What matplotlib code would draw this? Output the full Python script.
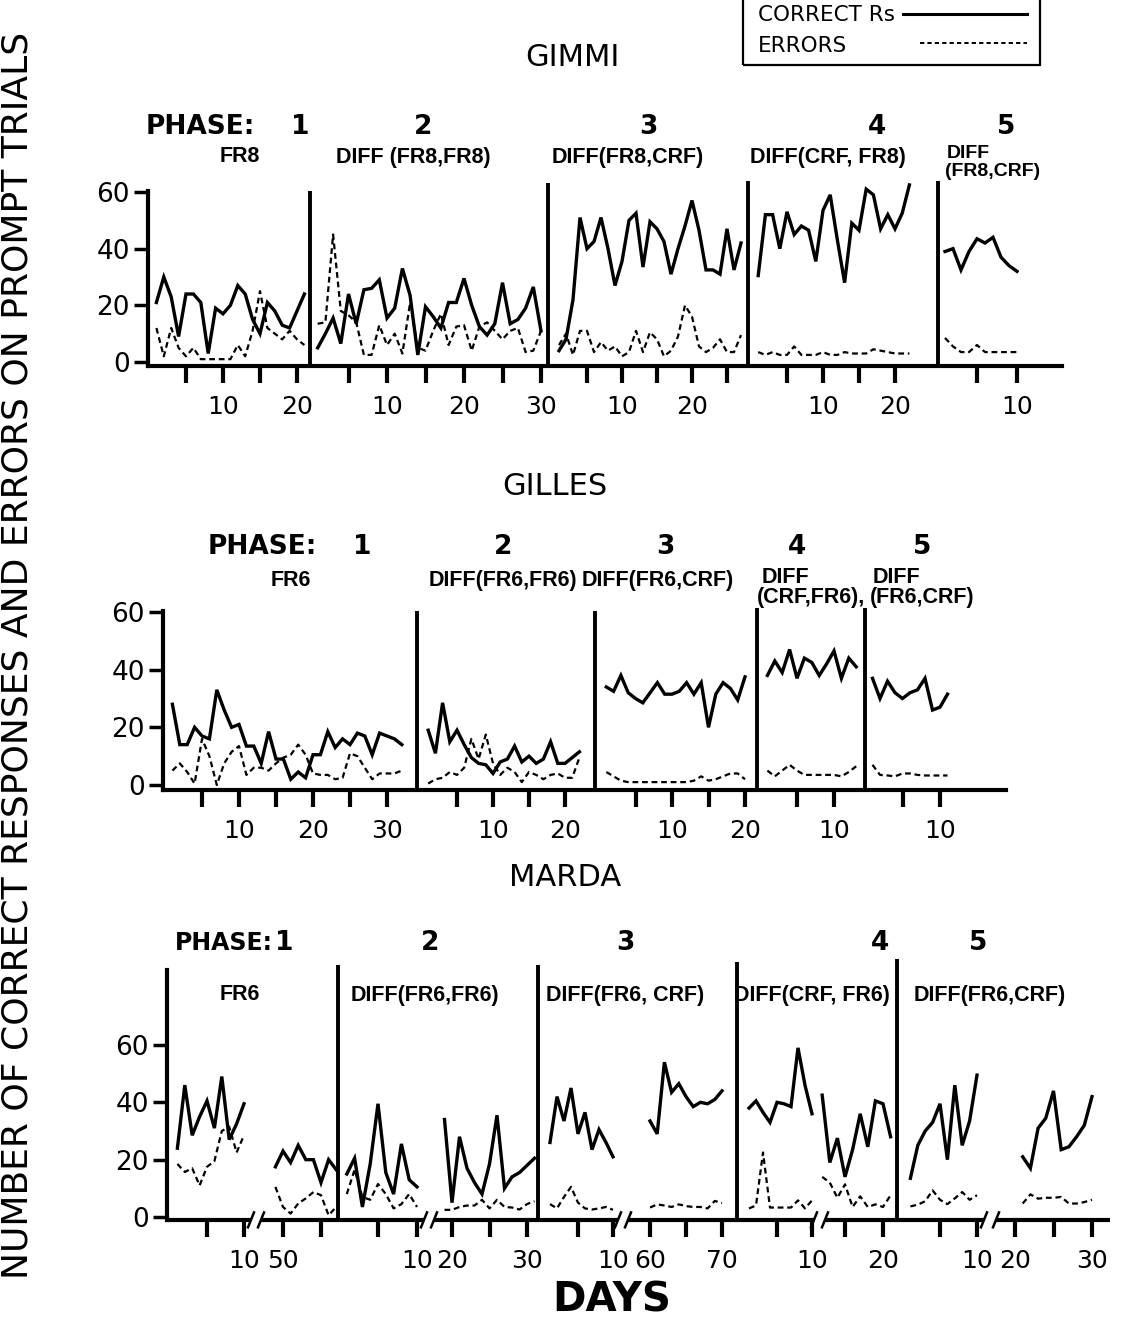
import matplotlib
matplotlib.use("Agg")
import matplotlib.pyplot as plt
from matplotlib import font_manager
from matplotlib.font_manager import FontProperties
from matplotlib.lines import Line2D
from matplotlib.patches import Rectangle

W, H = 1121, 1319

# ---------------- data: days, correct responses, errors ----------------
# GIMMI
GIMMI_P1_DAYS = list(range(1, 22))
GIMMI_P1_CORRECT = [21, 30, 23, 9, 24, 24, 21, 3, 19, 17, 20, 27, 24, 15, 10, 21, 18, 13, 12, 18, 24]
GIMMI_P1_ERRORS = [12, 2, 12, 5, 2, 5, 1, 1, 1, 1, 1, 6, 2, 11, 25, 12, 10, 8, 11, 8, 6]
GIMMI_P2_DAYS = list(range(1, 31))
GIMMI_P2_CORRECT = [5, 10, 15.5, 6.5, 24, 13.5, 25.5, 26, 29, 15.5, 19, 33, 23.5, 2.5, 19.5,
                    16, 12, 21, 21, 29.5, 20, 12.5, 9.5, 13.5, 28, 13.5, 15, 19, 26.5, 11]
GIMMI_P2_ERRORS = [13.5, 14, 45, 18, 16.5, 14, 2.5, 2.5, 13, 6, 10, 3, 21, 5, 4,
                   11, 17, 6, 12.5, 13, 4, 12.5, 14, 11, 8, 11, 12, 3.5, 4, 11]
GIMMI_P3_DAYS = list(range(1, 28))
GIMMI_P3_CORRECT = [4, 8, 22, 51, 40, 42.5, 51, 40, 27, 35.5, 50, 52.5, 33.5, 49.5, 47,
                    42.5, 31, 40, 48, 57, 46.5, 32.5, 32.5, 31, 47, 32.5, 42]
GIMMI_P3_ERRORS = [6, 10, 2.5, 11, 11, 3.5, 7, 4, 5.5, 2, 3.5, 11, 3.5, 10.5, 8,
                   2, 4, 9, 20, 16, 5.5, 3.5, 5, 8, 3.5, 3.5, 9.5]
GIMMI_P4_DAYS = list(range(1, 23))
GIMMI_P4_CORRECT = [30.5, 52, 52, 40, 53, 45, 48, 46.5, 35.5, 53.5, 59, 43, 28, 49, 46.5,
                    61, 59, 47, 52, 47, 52.5, 62.5]
GIMMI_P4_ERRORS = [3.5, 2.5, 3.5, 2.5, 2.5, 5.5, 2.5, 2.5, 2.5, 3.5, 2.5, 2.5, 3.5, 3, 3,
                   3, 4.5, 4, 3.5, 3, 3, 3]
GIMMI_P5_DAYS = list(range(1, 11))
GIMMI_P5_CORRECT = [39, 40, 32.5, 39, 43.5, 42, 44, 37, 34, 32]
GIMMI_P5_ERRORS = [8.5, 5.5, 3.5, 3.5, 6, 3.5, 3.5, 3.5, 3.5, 3.5]

# GILLES
GILLES_P1_DAYS = list(range(1, 33))
GILLES_P1_CORRECT = [28, 14, 14, 20, 17, 16, 33, 26, 20, 21, 13.5, 13.5, 7.5, 18.5, 9, 9,
                     2, 4.5, 2.5, 10.5, 10.5, 18.5, 13, 16, 14, 18, 17, 10.5, 18, 17, 16, 14]
GILLES_P1_ERRORS = [5, 7.5, 4.5, 0.5, 16, 10, 0, 7.5, 11.5, 13.5, 3.5, 6, 6, 5, 7.5, 9.5,
                    10.5, 14, 10.5, 4, 3.5, 3.5, 2, 2.5, 11, 10, 6, 2, 4, 4, 4, 5]
GILLES_P2_DAYS = list(range(1, 23))
GILLES_P2_CORRECT = [19, 11, 28.5, 15, 19, 14, 9.5, 7.5, 7, 4, 8, 9, 13.5, 8, 10, 7.5,
                     9, 15, 7.5, 7.5, 9.5, 11.5]
GILLES_P2_ERRORS = [0.5, 2, 2.5, 4.5, 3.5, 6, 16, 9, 17.5, 7.5, 3.5, 6, 4.5, 1, 4.5, 3.5,
                    2, 3.5, 4, 2.5, 2.5, 9.5]
GILLES_P3_DAYS = list(range(1, 21))
GILLES_P3_CORRECT = [34, 32.5, 38, 32, 30, 28.5, 32, 35.5, 31.5, 31.5, 32.5, 35.5, 31.5,
                     35.5, 20, 31.5, 35.5, 33.5, 29.5, 37.5]
GILLES_P3_ERRORS = [4.5, 3, 1.5, 1, 1, 1, 1, 1, 1, 1, 1, 1, 1.5, 3, 1.5, 2, 3, 4, 4, 2]
GILLES_P4_DAYS = list(range(1, 14))
GILLES_P4_CORRECT = [38, 43, 39, 47, 37, 44, 42.5, 38, 42, 46.5, 37, 44, 41]
GILLES_P4_ERRORS = [5, 3, 5, 7, 5, 3.5, 3.5, 3.5, 3.5, 3.5, 3, 4.5, 6.5]
GILLES_P5_DAYS = list(range(1, 12))
GILLES_P5_CORRECT = [37, 30, 36, 32, 30, 32, 33, 37, 26, 27, 31.5]
GILLES_P5_ERRORS = [7, 3.5, 3.3, 3, 4, 4, 3.5, 3.3, 3.3, 3.3, 3.3]

# MARDA (each phase shows an early and a late stretch of days)
MARDA_P1A_DAYS = list(range(1, 11))
MARDA_P1A_CORRECT = [24, 46, 28.5, 35, 40.5, 31, 49, 27, 32.5, 39.5]
MARDA_P1A_ERRORS = [18.5, 15.7, 17, 11, 17.5, 19.5, 30, 31.5, 22.5, 28.5]
MARDA_P1B_DAYS = list(range(49, 58))
MARDA_P1B_CORRECT = [17.5, 23, 19, 25, 20, 20, 12, 20, 16.5]
MARDA_P1B_ERRORS = [10.5, 3.5, 1.2, 4.7, 6.5, 8.7, 7.6, 0.6, 3.5]
MARDA_P2A_DAYS = list(range(1, 11))
MARDA_P2A_CORRECT = [15, 20.5, 3.5, 18.5, 39.5, 15.5, 8, 25.5, 13, 10.5]
MARDA_P2A_ERRORS = [8, 16.5, 7, 6, 11.5, 8, 3, 4.5, 8, 3.5]
MARDA_P2B_DAYS = list(range(19, 32))
MARDA_P2B_CORRECT = [34, 5, 28, 17, 12, 8, 18.5, 35.5, 10, 14, 15.5, 18, 20.5]
MARDA_P2B_ERRORS = [2.5, 2.5, 3.5, 4, 4, 6, 3, 6, 3.5, 3.3, 2.6, 4.5, 5.5]
MARDA_P3A_DAYS = list(range(1, 11))
MARDA_P3A_CORRECT = [26, 42, 33.5, 45, 29, 36.5, 23.5, 30.5, 26, 21]
MARDA_P3A_ERRORS = [4.5, 3, 7, 10.5, 5, 3, 2.6, 3, 3.5, 2.5]
MARDA_P3B_DAYS = list(range(60, 71))
MARDA_P3B_CORRECT = [33.5, 29, 54, 43.5, 46.5, 42, 38.5, 40, 39.5, 41, 44]
MARDA_P3B_ERRORS = [3.3, 4.4, 4, 3.5, 4.4, 3.8, 3.5, 3.5, 3, 5.6, 4.9]
MARDA_P4A_DAYS = list(range(1, 11))
MARDA_P4A_CORRECT = [38, 40.5, 36.5, 33, 40, 39.5, 38.5, 59, 46, 36]
MARDA_P4A_ERRORS = [3, 4, 22.5, 3.3, 3.3, 3.3, 3.3, 5.8, 3, 5.8]
MARDA_P4B_DAYS = list(range(12, 22))
MARDA_P4B_CORRECT = [42.5, 19, 27.5, 14, 23.5, 36, 24.5, 40.5, 39.5, 28]
MARDA_P4B_ERRORS = [14, 12, 6.7, 11.4, 3.5, 7.2, 3.5, 4.4, 3.5, 7.6]
MARDA_P5A_DAYS = list(range(1, 11))
MARDA_P5A_CORRECT = [13.5, 25, 30, 33, 39.5, 20, 46, 25, 33.5, 49.5]
MARDA_P5A_ERRORS = [3.7, 4.3, 5.5, 9.3, 6, 4.5, 6.5, 8.7, 6, 7.6]
MARDA_P5B_DAYS = list(range(21, 31))
MARDA_P5B_CORRECT = [21, 17, 31, 34.5, 44, 23.5, 24.5, 28, 32, 42]
MARDA_P5B_ERRORS = [4.7, 7.9, 6.4, 6.7, 6.7, 7, 4.7, 4.7, 5.2, 6]


def have_font(name):
    try:
        font_manager.findfont(FontProperties(family=name), fallback_to_default=False)
        return True
    except ValueError:
        return False


MAIN = 'DejaVu Sans'
NARROW = 'Liberation Sans Narrow' if have_font('Liberation Sans Narrow') else 'Liberation Sans'

plt.rcParams['font.family'] = [MAIN]
fig = plt.figure(figsize=(W / 100, H / 100), dpi=100)


def ftext(x, y, s, **kw):
    kw.setdefault('ha', 'center')
    kw.setdefault('va', 'center')
    fig.text(x / W, 1 - y / H, s, **kw)


def panel(top, bottom, y0, ppu):
    ax = fig.add_axes([0, 1 - bottom / H, 1, (bottom - top) / H])
    ax.set_xlim(0, W)
    ax.set_ylim((y0 - bottom) / ppu, (y0 - top) / ppu)
    ax.patch.set_alpha(0)
    for s in ('top', 'right'):
        ax.spines[s].set_visible(False)
    return ax


def draw(ax, segs, yaxis_x, axis_y, ytop, xend, bounds_px, tops, breaks=None):
    ticks, labels = [], []
    for days, corr, err, (rd, rx, ppd), tks in segs:
        xs = [rx + (d - rd) * ppd for d in days]
        ax.plot(xs, corr, color='black', lw=2.4, solid_joinstyle='miter')
        ax.plot(xs, err, color='black', lw=1.6, linestyle=(0, (2.6, 1.7)))
        for t in tks:
            ticks.append(rx + (t - rd) * ppd)
            labels.append(str(t) if t % 10 == 0 else '')
    ax.set_xticks(ticks)
    ax.set_xticklabels(labels)
    ax.set_yticks([0, 20, 40, 60])
    ax.spines['left'].set_position(('data', yaxis_x))
    ax.spines['left'].set_bounds(axis_y, ytop)
    ax.spines['bottom'].set_position(('data', axis_y))
    ax.spines['bottom'].set_bounds(yaxis_x, xend)
    for s in ('left', 'bottom'):
        ax.spines[s].set_linewidth(3)
    ax.tick_params(axis='x', direction='out', length=12, width=3, labelsize=18, pad=9)
    ax.tick_params(axis='y', direction='out', length=10, width=2.5, labelsize=19, pad=3)
    ax.vlines(bounds_px, axis_y, tops, color='black', lw=2.8)
    if breaks:
        ax.spines['bottom'].set_visible(False)
        edges = [yaxis_x] + [v for b in breaks for v in b] + [xend]
        for a, b in zip(edges[::2], edges[1::2]):
            ax.plot([a, b], [axis_y, axis_y], color='black', lw=3, solid_capstyle='butt')
        for b0, b1 in breaks:
            for bx in (b0, b1):
                ax.plot([bx - 3, bx + 3], [axis_y - 2.6, axis_y + 2.6], color='black', lw=1.8)


# ---------------- GIMMI ----------------
ax1 = panel(170, 420, 362, 170 / 60)
draw(ax1, [
    (GIMMI_P1_DAYS, GIMMI_P1_CORRECT, GIMMI_P1_ERRORS, (0, 149, 7.4), [5, 10, 15, 20]),
    (GIMMI_P2_DAYS, GIMMI_P2_CORRECT, GIMMI_P2_ERRORS, (0, 310, 7.7), [5, 10, 15, 20, 25, 30]),
    (GIMMI_P3_DAYS, GIMMI_P3_CORRECT, GIMMI_P3_ERRORS, (0, 552, 7.0), [5, 10, 15, 20, 25]),
    (GIMMI_P4_DAYS, GIMMI_P4_CORRECT, GIMMI_P4_ERRORS, (0, 751, 7.2), [5, 10, 15, 20]),
    (GIMMI_P5_DAYS, GIMMI_P5_CORRECT, GIMMI_P5_ERRORS, (0, 937, 8.0), [5, 10]),
], 148, -1.4, 60.5, 1062, [310, 548, 748, 938], [60.5, 63, 64, 64])

# ---------------- GILLES ----------------
ax2 = panel(595, 830, 785, 173 / 60)
draw(ax2, [
    (GILLES_P1_DAYS, GILLES_P1_CORRECT, GILLES_P1_ERRORS, (0, 165, 7.4), [5, 10, 15, 20, 25, 30]),
    (GILLES_P2_DAYS, GILLES_P2_CORRECT, GILLES_P2_ERRORS, (0, 421, 7.2), [5, 10, 15, 20]),
    (GILLES_P3_DAYS, GILLES_P3_CORRECT, GILLES_P3_ERRORS, (0, 599, 7.3), [5, 10, 15, 20]),
    (GILLES_P4_DAYS, GILLES_P4_CORRECT, GILLES_P4_ERRORS, (0, 760, 7.4), [5, 10]),
    (GILLES_P5_DAYS, GILLES_P5_CORRECT, GILLES_P5_ERRORS, (0, 865, 7.5), [5, 10]),
], 163, -1.7, 60.3, 1006, [417, 595, 757, 865], [60.5, 60.5, 61.5, 61.5])

# ---------------- MARDA ----------------
ax3 = panel(950, 1265, 1217, 172 / 60)
draw(ax3, [
    (MARDA_P1A_DAYS, MARDA_P1A_CORRECT, MARDA_P1A_ERRORS, (0, 170, 7.4), [5, 10]),
    (MARDA_P1B_DAYS, MARDA_P1B_CORRECT, MARDA_P1B_ERRORS, (50, 283, 7.6), [50, 55]),
    (MARDA_P2A_DAYS, MARDA_P2A_CORRECT, MARDA_P2A_ERRORS, (0, 339, 7.8), [5, 10]),
    (MARDA_P2B_DAYS, MARDA_P2B_CORRECT, MARDA_P2B_ERRORS, (20, 452, 7.5), [20, 25, 30]),
    (MARDA_P3A_DAYS, MARDA_P3A_CORRECT, MARDA_P3A_ERRORS, (0, 543, 7.0), [5, 10]),
    (MARDA_P3B_DAYS, MARDA_P3B_CORRECT, MARDA_P3B_ERRORS, (60, 650, 7.2), [60, 65, 70]),
    (MARDA_P4A_DAYS, MARDA_P4A_CORRECT, MARDA_P4A_ERRORS, (0, 742, 7.0), [5, 10]),
    (MARDA_P4B_DAYS, MARDA_P4B_CORRECT, MARDA_P4B_ERRORS, (15, 845, 7.6), [15, 20]),
    (MARDA_P5A_DAYS, MARDA_P5A_CORRECT, MARDA_P5A_ERRORS, (0, 903, 7.4), [5, 10]),
    (MARDA_P5B_DAYS, MARDA_P5B_CORRECT, MARDA_P5B_ERRORS, (20, 1015, 7.7), [20, 25, 30]),
], 167, -1.0, 86, 1110, [338, 538, 737, 897], [88, 88, 89, 90],
    breaks=[(251, 261), (424, 434), (618, 628), (814, 825), (984, 996)])

# ---------------- titles and phase labels ----------------
ftext(572, 57, 'GIMMI', fontsize=22)
ftext(555, 487, 'GILLES', fontsize=22)
ftext(565, 878, 'MARDA', fontsize=22)
ftext(612, 1300, 'DAYS', fontsize=29, fontweight='bold')
ftext(18, 655, 'NUMBER OF CORRECT RESPONSES AND ERRORS ON PROMPT TRIALS',
      fontsize=26, rotation=90)

bold = dict(fontsize=19, fontweight='bold')
sub = dict(fontsize=15.5, family=NARROW, fontweight='bold')
sub_small = dict(fontsize=14, family=NARROW, fontweight='bold')

for x, s in [(200, 'PHASE:'), (300, '1'), (423, '2'), (648, '3'), (877, '4'), (1006, '5')]:
    ftext(x, 127, s, **bold)
for x, s in [(240, 'FR8'), (413, 'DIFF (FR8,FR8)'), (628, 'DIFF(FR8,CRF)'), (828, 'DIFF(CRF, FR8)')]:
    ftext(x, 157, s, **sub)
ftext(947, 154, 'DIFF', ha='left', **sub_small)
ftext(945, 172, '(FR8,CRF)', ha='left', **sub_small)

for x, s in [(262, 'PHASE:'), (362, '1'), (503, '2'), (665, '3'), (797, '4'), (922, '5')]:
    ftext(x, 547, s, **bold)
for x, s in [(291, 'FR6'), (503, 'DIFF(FR6,FR6)'), (658, 'DIFF(FR6,CRF)')]:
    ftext(x, 581, s, **sub)
ftext(762, 577, 'DIFF', ha='left', **sub)
ftext(757, 598, '(CRF,FR6),', ha='left', **sub)
ftext(873, 577, 'DIFF', ha='left', **sub)
ftext(870, 598, '(FR6,CRF)', ha='left', **sub)

ftext(273, 943, 'PHASE:', ha='right', fontsize=17, fontweight='bold')
for x, s in [(284, '1'), (430, '2'), (625, '3'), (880, '4'), (978, '5')]:
    ftext(x, 943, s, **bold)
for x, s in [(240, 'FR6'), (425, 'DIFF(FR6,FR6)'), (625, 'DIFF(FR6, CRF)'),
             (812, 'DIFF(CRF, FR6)'), (990, 'DIFF(FR6,CRF)')]:
    ftext(x, 995, s, **sub)

# ---------------- legend (text left, line sample right, box cut at top) ----------------
fig.add_artist(Rectangle((743 / W, 1 - 65 / H), 297 / W, 80 / H, transform=fig.transFigure,
                         fill=False, edgecolor='black', lw=1.6))
ftext(758, 15, 'CORRECT Rs', ha='left', fontsize=15.5)
ftext(758, 46, 'ERRORS', ha='left', fontsize=15.5)
fig.add_artist(Line2D([903 / W, 1027 / W], [1 - 14 / H, 1 - 14 / H],
                      transform=fig.transFigure, color='black', lw=2.2))
fig.add_artist(Line2D([920 / W, 1027 / W], [1 - 43 / H, 1 - 43 / H],
                      transform=fig.transFigure, color='black', lw=1.4,
                      linestyle=(0, (2.2, 1.6))))

fig.savefig('out.png', dpi=100)
